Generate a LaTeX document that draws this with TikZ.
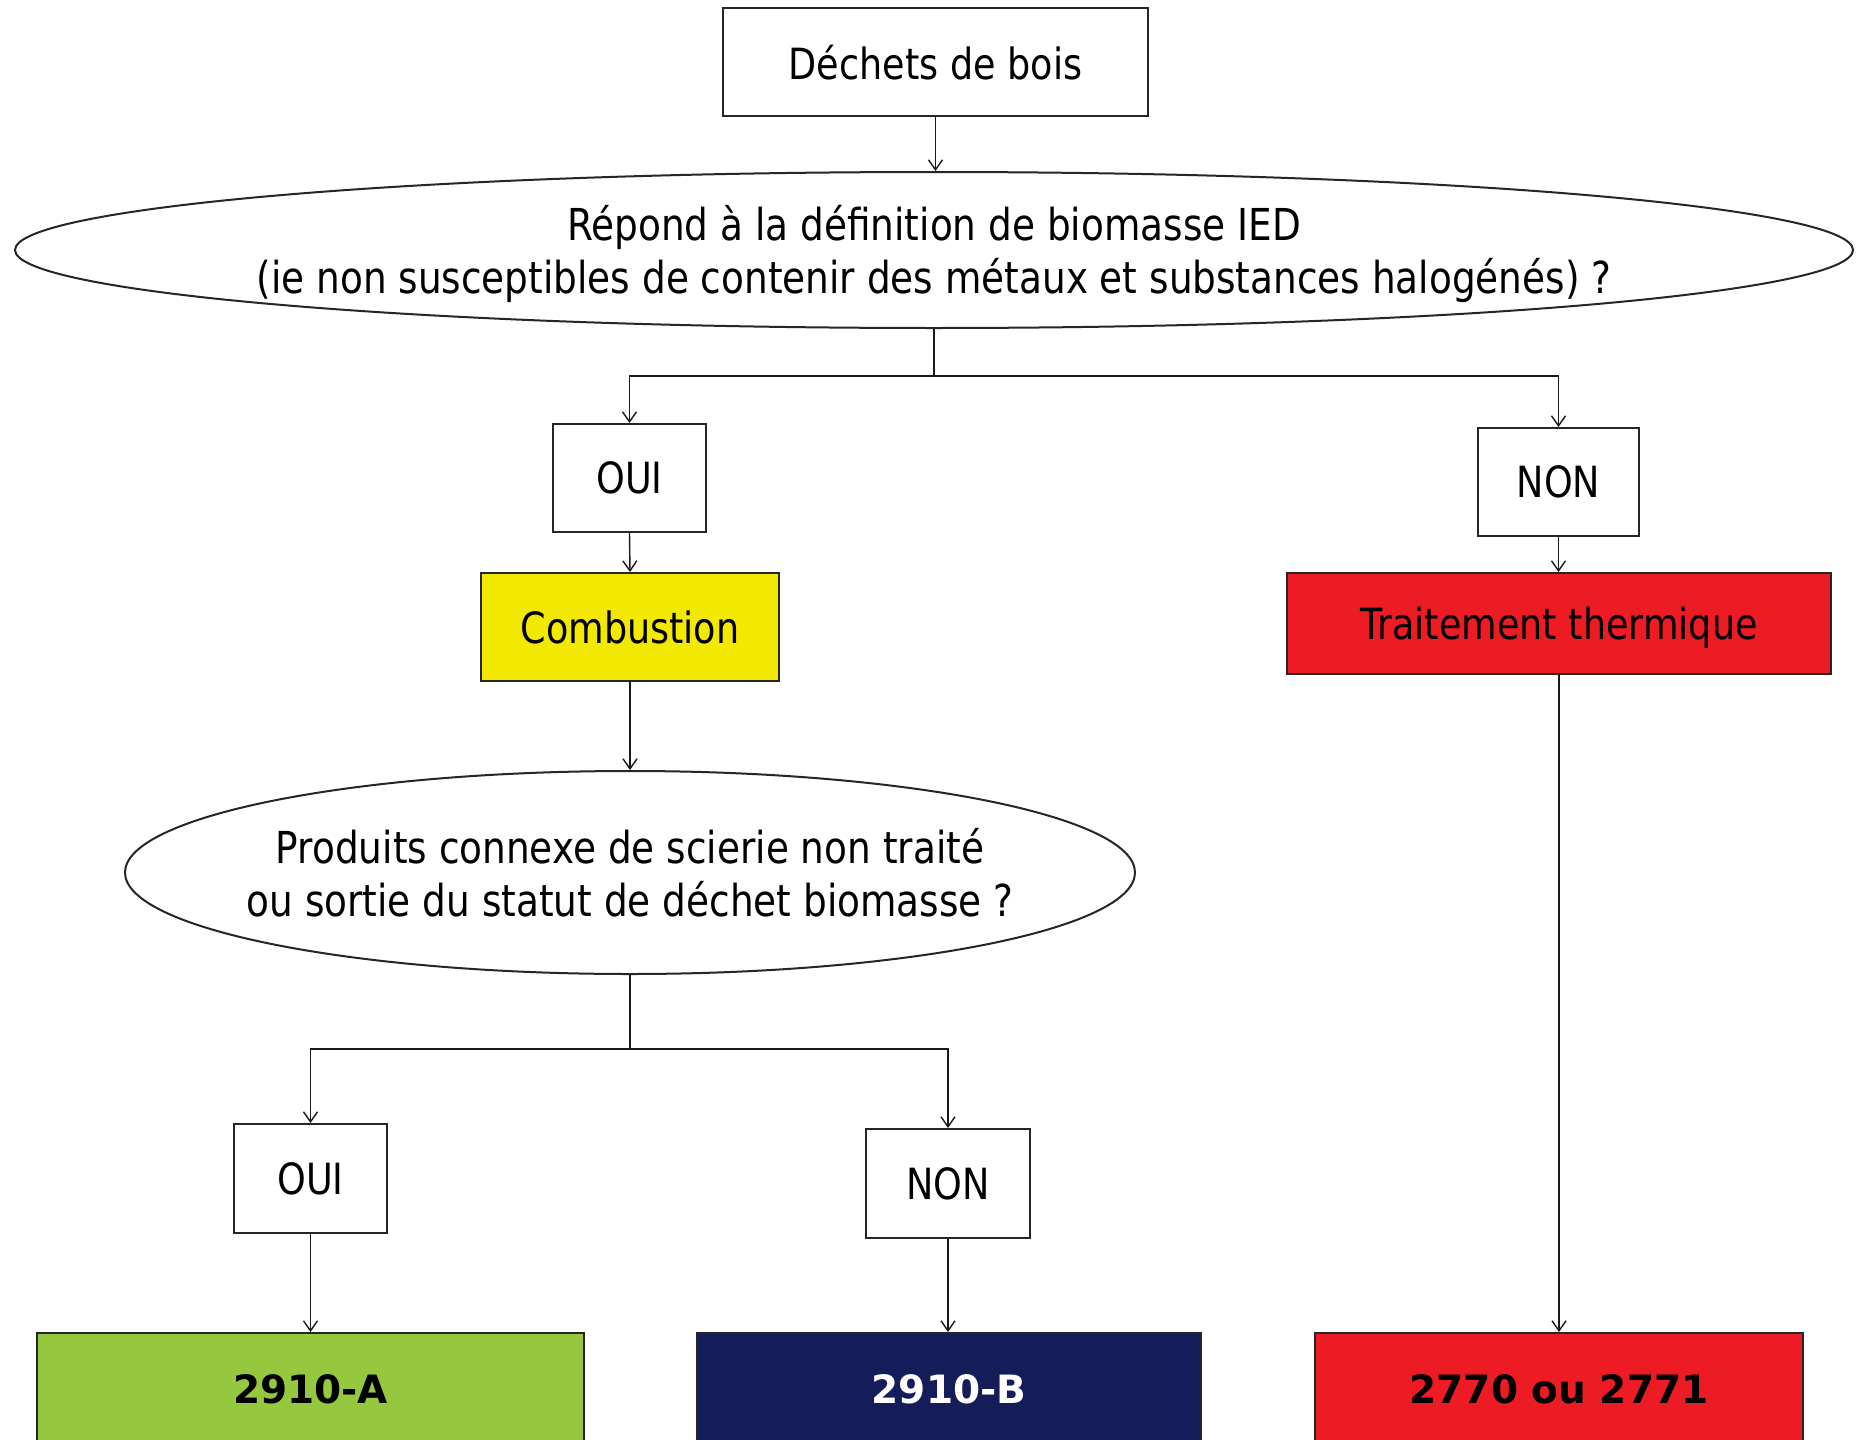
\documentclass[tikz,border=0pt]{standalone}
\usepackage{fontspec}
\setmainfont{DejaVu Sans}[FakeStretch=0.85]
\newfontfamily\numfont{DejaVu Sans}
\usetikzlibrary{shapes.geometric,arrows.meta}
\definecolor{cyel}{RGB}{242,232,0}
\definecolor{cred}{RGB}{237,28,36}
\definecolor{cgreen}{RGB}{149,200,63}
\definecolor{cnavy}{RGB}{21,28,90}
\tikzset{
  box/.style={draw=black!85, line width=2pt, rectangle, inner sep=0pt, align=center,
    text depth=0pt, font=\fontsize{43}{50}\selectfont},
  qell/.style={draw=black!85, line width=2pt, ellipse, inner sep=0pt},
  qtext/.style={align=center, inner sep=0pt, font=\fontsize{44}{53}\selectfont},
  result/.style={draw=black!85, line width=2pt, rectangle, inner sep=0pt, align=center,
    text depth=0pt, font=\numfont\bfseries\fontsize{39}{46}\selectfont},
  arr/.style={draw=black!90, line width=1.4pt, -{Straight Barb[length=10pt,width=14pt,line width=1.4pt]}},
  ln/.style={draw=black!90, line width=1.4pt},
}
\begin{document}
\begin{tikzpicture}[x=1pt,y=-1pt]
\useasboundingbox (0,0) rectangle (1861,1440);
\clip (0,0) rectangle (1861,1440);
\fill[white] (0,0) rectangle (1861,1440);
% nodes
\node[box, minimum width=425pt, minimum height=108pt] (dech) at (935.5,62) {Déchets de bois};
\node[qell, minimum width=1838pt, minimum height=156pt] (q1) at (934,250) {};
\node[qtext] (q1t) at (934,254)
  {Répond à la définition de biomasse IED\\(ie non susceptibles de contenir des métaux et substances halogénés) ?};
\node[box, minimum width=153pt, minimum height=108pt] (oui1) at (629.5,478) {OUI};
\node[box, minimum width=161pt, minimum height=108pt] (non1) at (1558.5,482) {NON};
\node[box, fill=cyel, minimum width=298pt, minimum height=108pt] (comb) at (630,627) {Combustion};
\node[box, fill=cred, minimum width=544pt, minimum height=101pt] (trait) at (1559,623.5) {Traitement thermique};
\node[qell, minimum width=1010pt, minimum height=203pt] (q2) at (630,872.5) {};
\node[qtext] (q2t) at (630,872.5)
  {Produits connexe de scierie non traité\\ou sortie du statut de déchet biomasse ?};
\node[box, minimum width=153pt, minimum height=109pt] (oui2) at (310.5,1178.5) {OUI};
\node[box, minimum width=164pt, minimum height=109pt] (non2) at (948,1183.5) {NON};
\node[result, fill=cgreen, minimum width=547pt, minimum height=112pt] (ra) at (310.5,1389) {2910-A};
\node[result, fill=cnavy, text=white, minimum width=504pt, minimum height=112pt] (rb) at (949,1389) {2910-B};
\node[result, fill=cred, minimum width=488pt, minimum height=112pt] (rc) at (1559,1389) {2770 ou 2771};
% junctions
\coordinate (j1) at (q1.south |- 0,376);
\coordinate (j2) at (q2.south |- 0,1049);
% connectors
\draw[arr] (dech.south) -- (dech.south |- q1.north);
\draw[ln] (q1.south) -- (j1);
\draw[arr] (j1) -| (oui1.north);
\draw[arr] (j1) -| (non1.north);
\draw[arr] (oui1.south) -- (comb.north);
\draw[arr] (non1.south) -- (non1.south |- trait.north);
\draw[arr] (comb.south) -- (q2.north);
\draw[ln] (q2.south) -- (j2);
\draw[arr] (j2) -| (oui2.north);
\draw[arr] (j2) -| (non2.north);
\draw[arr] (oui2.south) -- (oui2.south |- ra.north);
\draw[arr] (non2.south) -- (non2.south |- rb.north);
\draw[arr] (trait.south) -- (trait.south |- rc.north);
\end{tikzpicture}
\end{document}
